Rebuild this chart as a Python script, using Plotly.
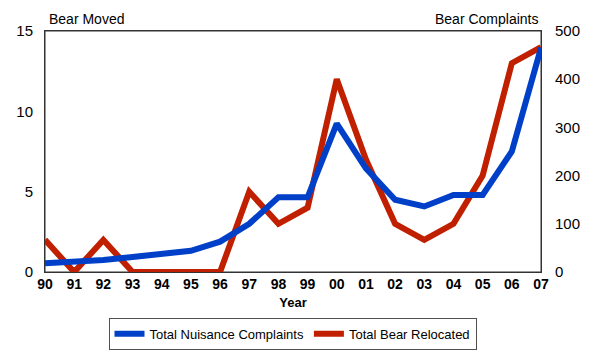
import plotly.graph_objects as go

years = ["90", "91", "92", "93", "94", "95", "96", "97", "98", "99",
         "00", "01", "02", "03", "04", "05", "06", "07"]
complaints = [18, 21, 25, 31, 37, 44, 63, 100, 155, 155,
              308, 215, 150, 136, 160, 160, 250, 465]
relocated = [2, 0, 2, 0, 0, 0, 0, 5, 3, 4,
             12, 7, 3, 2, 3, 6, 13, 14]
left_ticks = [0, 5, 10, 15]
right_ticks = [0, 100, 200, 300, 400, 500]

BLUE = "#0040C8"
RED = "#C02000"
FONT = "Liberation Sans, Arial, sans-serif"
AX = "#333333"

fig = go.Figure()
fig.add_trace(go.Scatter(x=years, y=complaints, name="Total Nuisance Complaints",
                         mode="lines", line=dict(color=BLUE, width=6), yaxis="y2"))
fig.add_trace(go.Scatter(x=years, y=relocated, name="Total Bear Relocated",
                         mode="lines", line=dict(color=RED, width=6), yaxis="y"))

fig.update_layout(
    width=600, height=358,
    margin=dict(l=45, r=59, t=31, b=86, autoexpand=False),
    paper_bgcolor="white", plot_bgcolor="white",
    font=dict(family=FONT, size=13, color="black"),
    showlegend=True,
    legend=dict(orientation="h", x=0.499, xanchor="center", y=-0.19, yanchor="top",
                bordercolor="#505050", borderwidth=1, font=dict(size=13),
                itemwidth=30, tracegroupgap=0, bgcolor="white"),
    xaxis=dict(type="category", range=[0, 17], showgrid=False, zeroline=False,
               showline=True, linecolor=AX, linewidth=1, mirror=True, ticks="",
               ticklabelstandoff=-1,
               tickfont=dict(size=14, family=FONT, weight="bold"),
               title=dict(text="<b>Year</b>", font=dict(size=13), standoff=7)),
    yaxis=dict(range=[0, 15], tickvals=left_ticks, showgrid=False, zeroline=False,
               showline=True, linecolor=AX, linewidth=1, mirror=True, ticks="",
               ticklabelstandoff=8, tickfont=dict(size=15)),
    yaxis2=dict(range=[0, 500], tickvals=right_ticks, overlaying="y", side="right",
                showgrid=False, zeroline=False, showline=True, linecolor=AX,
                linewidth=1, ticks="", ticklabelstandoff=10, tickfont=dict(size=15)),
    shapes=[dict(type="rect", xref="paper", yref="paper", x0=0, y0=0, x1=1, y1=1,
                 line=dict(color=AX, width=1), fillcolor="rgba(0,0,0,0)", layer="below")],
    annotations=[
        dict(text="Bear Moved", xref="paper", yref="paper", x=0.0, y=1.0,
             xanchor="left", yanchor="bottom", xshift=2, yshift=2, showarrow=False,
             font=dict(size=14)),
        dict(text="Bear Complaints", xref="paper", yref="paper", x=1.0, y=1.0,
             xanchor="right", yanchor="bottom", yshift=2, showarrow=False,
             font=dict(size=14)),
    ],
)

fig.write_html("out.html", config={"displayModeBar": False},
               post_script="document.body.style.margin='0';document.body.style.overflow='hidden';")
